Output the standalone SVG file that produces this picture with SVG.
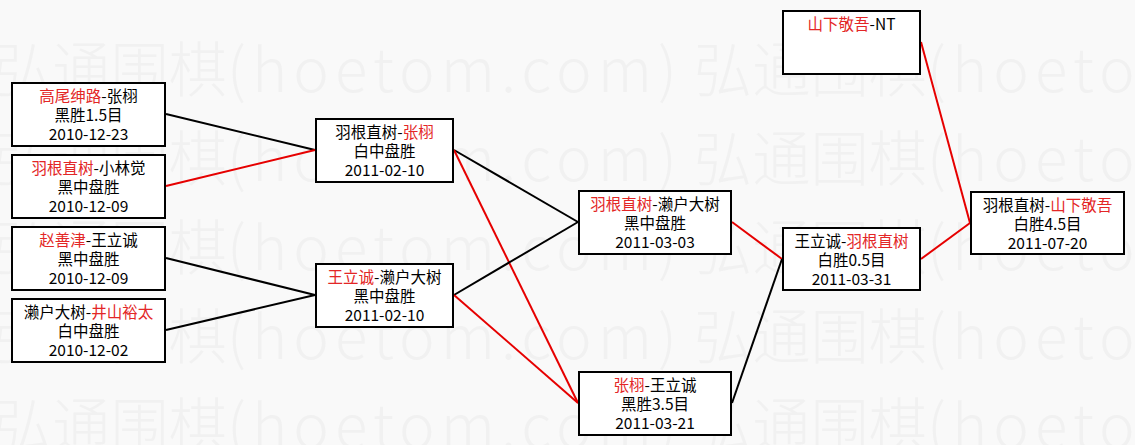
<svg xmlns="http://www.w3.org/2000/svg" width="1135" height="445" viewBox="0 0 1135 445">
<style>
.bg{fill:#f9f9f9}
.wm{font-family:"Noto Sans CJK SC","Noto Sans",sans-serif;font-size:60px;font-weight:300;fill:#f1f1f1}
.box{fill:#ffffff;stroke:#000;stroke-width:2}
.t{font-family:"Noto Sans CJK SC","Noto Sans",sans-serif;font-size:15.5px;text-anchor:middle;fill:#000}
.r{fill:#e32626}
.cb{stroke:#000;stroke-width:2;fill:none}
.cr{stroke:#e60000;stroke-width:2;fill:none}
</style>
<rect class="bg" x="0" y="0" width="1135" height="445"/>
<g id="watermark">
  <text class="wm" x="-6" y="92" textLength="233" lengthAdjust="spacingAndGlyphs">弘通围棋</text>
  <text class="wm" x="227" y="92" textLength="450" lengthAdjust="spacing">(hoetom.com)</text>
  <text class="wm" x="694" y="92" textLength="233" lengthAdjust="spacingAndGlyphs">弘通围棋</text>
  <text class="wm" x="927" y="92" textLength="450" lengthAdjust="spacing">(hoetom.com)</text>
  <text class="wm" x="-6" y="181" textLength="233" lengthAdjust="spacingAndGlyphs">弘通围棋</text>
  <text class="wm" x="227" y="181" textLength="450" lengthAdjust="spacing">(hoetom.com)</text>
  <text class="wm" x="694" y="181" textLength="233" lengthAdjust="spacingAndGlyphs">弘通围棋</text>
  <text class="wm" x="927" y="181" textLength="450" lengthAdjust="spacing">(hoetom.com)</text>
  <text class="wm" x="-6" y="270" textLength="233" lengthAdjust="spacingAndGlyphs">弘通围棋</text>
  <text class="wm" x="227" y="270" textLength="450" lengthAdjust="spacing">(hoetom.com)</text>
  <text class="wm" x="694" y="270" textLength="233" lengthAdjust="spacingAndGlyphs">弘通围棋</text>
  <text class="wm" x="927" y="270" textLength="450" lengthAdjust="spacing">(hoetom.com)</text>
  <text class="wm" x="-6" y="359" textLength="233" lengthAdjust="spacingAndGlyphs">弘通围棋</text>
  <text class="wm" x="227" y="359" textLength="450" lengthAdjust="spacing">(hoetom.com)</text>
  <text class="wm" x="694" y="359" textLength="233" lengthAdjust="spacingAndGlyphs">弘通围棋</text>
  <text class="wm" x="927" y="359" textLength="450" lengthAdjust="spacing">(hoetom.com)</text>
  <text class="wm" x="-6" y="448" textLength="233" lengthAdjust="spacingAndGlyphs">弘通围棋</text>
  <text class="wm" x="227" y="448" textLength="450" lengthAdjust="spacing">(hoetom.com)</text>
  <text class="wm" x="694" y="448" textLength="233" lengthAdjust="spacingAndGlyphs">弘通围棋</text>
  <text class="wm" x="927" y="448" textLength="450" lengthAdjust="spacing">(hoetom.com)</text>
</g>
<g id="connectors">
  <line class="cb" x1="166" y1="114" x2="315" y2="150"/>
  <line class="cr" x1="166" y1="186" x2="315" y2="150"/>
  <line class="cb" x1="166" y1="258" x2="315" y2="295"/>
  <line class="cb" x1="166" y1="330" x2="315" y2="295"/>
  <line class="cb" x1="454" y1="150" x2="578" y2="222"/>
  <line class="cr" x1="454" y1="150" x2="578" y2="403"/>
  <line class="cb" x1="454" y1="295" x2="578" y2="222"/>
  <line class="cr" x1="454" y1="295" x2="578" y2="403"/>
  <line class="cr" x1="732" y1="222" x2="782" y2="259"/>
  <line class="cb" x1="732" y1="403" x2="782" y2="259"/>
  <line class="cr" x1="921" y1="259" x2="970" y2="223"/>
  <line class="cr" x1="921" y1="42" x2="970" y2="223"/>
</g>
<g id="n1">
  <rect class="box" x="12" y="83" width="153" height="63"/>
  <text class="t" x="88.5" y="102"><tspan class="r">高尾绅路</tspan>-张栩</text>
  <text class="t" x="88.5" y="121">黑胜1.5目</text>
  <text class="t" x="88.5" y="140">2010-12-23</text>
</g>
<g id="n2">
  <rect class="box" x="12" y="155" width="153" height="63"/>
  <text class="t" x="88.5" y="174"><tspan class="r">羽根直树</tspan>-小林觉</text>
  <text class="t" x="88.5" y="193">黑中盘胜</text>
  <text class="t" x="88.5" y="212">2010-12-09</text>
</g>
<g id="n3">
  <rect class="box" x="12" y="227" width="153" height="63"/>
  <text class="t" x="88.5" y="246"><tspan class="r">赵善津</tspan>-王立诚</text>
  <text class="t" x="88.5" y="265">黑中盘胜</text>
  <text class="t" x="88.5" y="284">2010-12-09</text>
</g>
<g id="n4">
  <rect class="box" x="12" y="299" width="153" height="63"/>
  <text class="t" x="88.5" y="318">濑户大树-<tspan class="r">井山裕太</tspan></text>
  <text class="t" x="88.5" y="337">白中盘胜</text>
  <text class="t" x="88.5" y="356">2010-12-02</text>
</g>
<g id="n5">
  <rect class="box" x="316" y="119" width="137" height="63"/>
  <text class="t" x="384.5" y="138">羽根直树-<tspan class="r">张栩</tspan></text>
  <text class="t" x="384.5" y="157">白中盘胜</text>
  <text class="t" x="384.5" y="176">2011-02-10</text>
</g>
<g id="n6">
  <rect class="box" x="316" y="264" width="137" height="63"/>
  <text class="t" x="384.5" y="283"><tspan class="r">王立诚</tspan>-濑户大树</text>
  <text class="t" x="384.5" y="302">黑中盘胜</text>
  <text class="t" x="384.5" y="321">2011-02-10</text>
</g>
<g id="n7">
  <rect class="box" x="579" y="191" width="152" height="63"/>
  <text class="t" x="655" y="210"><tspan class="r">羽根直树</tspan>-濑户大树</text>
  <text class="t" x="655" y="229">黑中盘胜</text>
  <text class="t" x="655" y="248">2011-03-03</text>
</g>
<g id="n8">
  <rect class="box" x="579" y="372" width="152" height="63"/>
  <text class="t" x="655" y="391"><tspan class="r">张栩</tspan>-王立诚</text>
  <text class="t" x="655" y="410">黑胜3.5目</text>
  <text class="t" x="655" y="429">2011-03-21</text>
</g>
<g id="n9">
  <rect class="box" x="783" y="228" width="137" height="62"/>
  <text class="t" x="851.5" y="247">王立诚-<tspan class="r">羽根直树</tspan></text>
  <text class="t" x="851.5" y="266">白胜0.5目</text>
  <text class="t" x="851.5" y="285">2011-03-31</text>
</g>
<g id="n10">
  <rect class="box" x="783" y="11" width="137" height="63"/>
  <text class="t" x="851.5" y="30"><tspan class="r">山下敬吾</tspan>-NT</text>
</g>
<g id="n11">
  <rect class="box" x="971" y="192" width="153" height="62"/>
  <text class="t" x="1047.5" y="211">羽根直树-<tspan class="r">山下敬吾</tspan></text>
  <text class="t" x="1047.5" y="230">白胜4.5目</text>
  <text class="t" x="1047.5" y="249">2011-07-20</text>
</g>
</svg>
